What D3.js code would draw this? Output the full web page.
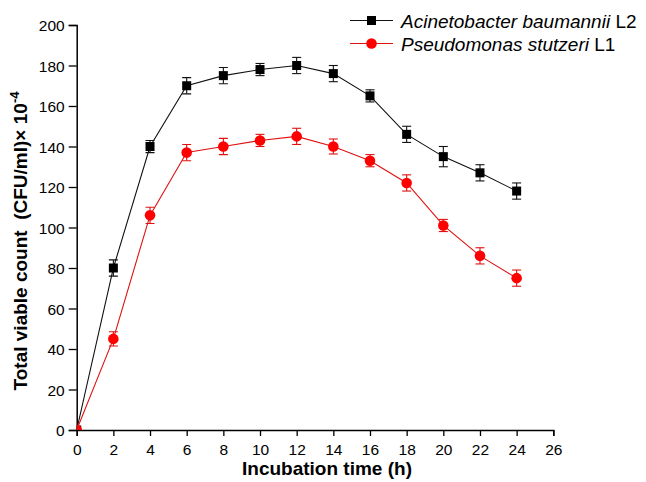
<!DOCTYPE html>
<html>
<head>
<meta charset="utf-8">
<script src="https://cdn.jsdelivr.net/npm/d3@7"></script>
<style>
html,body{margin:0;padding:0;background:#fff;}
text{font-family:"Liberation Sans",Arial,sans-serif;}
</style>
</head>
<body>
<svg id="chart" width="646" height="482"></svg>
<script>
const times = [0, 2, 4, 6, 8, 10, 12, 14, 16, 18, 20, 22, 24];
const acinetoValues = [0, 80, 140, 170, 175, 178, 180, 176, 165, 146, 135, 127, 118];
const acinetoErrors = [0, 4, 3, 4, 4, 3, 4, 4, 3, 4, 5, 4, 4];
const pseudoValues = [0, 45, 106, 137, 140, 143, 145, 140, 133, 122, 101, 86, 75];
const pseudoErrors = [0, 3.5, 4, 4, 4, 3, 4, 3.7, 3, 4, 3, 4, 4];
const xTicks = [0, 2, 4, 6, 8, 10, 12, 14, 16, 18, 20, 22, 24, 26];
const yTicks = [0, 20, 40, 60, 80, 100, 120, 140, 160, 180, 200];

const svg = d3.select("#chart");
const x = d3.scaleLinear().domain([0, 26]).range([76.7, 553.3]);
const y = d3.scaleLinear().domain([0, 200]).range([430, 25]);

svg.append("defs").append("clipPath").attr("id", "plotclip")
  .append("rect").attr("x", 76.7).attr("y", 0).attr("width", 570).attr("height", 430);

// axes
const xAxis = svg.append("g").attr("transform", "translate(0,430)")
  .call(d3.axisBottom(x).tickValues(xTicks).tickSize(6).tickPadding(4).tickFormat(d3.format("d")));
const yAxis = svg.append("g").attr("transform", "translate(76.7,0)")
  .call(d3.axisLeft(y).tickValues(yTicks).tickSize(8).tickPadding(4).tickFormat(d3.format("d")));
[xAxis, yAxis].forEach(a => {
  a.select(".domain").attr("stroke", "#000").attr("stroke-width", 1.5);
  a.selectAll(".tick line").attr("stroke", "#000").attr("stroke-width", 1.3);
  a.selectAll(".tick text").attr("fill", "#000").style("font-size", "15.5px")
    .style("font-family", "'Liberation Sans', Arial, sans-serif");
});
xAxis.selectAll(".tick text").attr("dy", null).attr("y", 25);
yAxis.selectAll(".tick text").attr("dy", "0.36em");

// axis titles
svg.append("text").attr("x", 327).attr("y", 475).attr("text-anchor", "middle")
  .style("font-size", "19px").style("font-weight", "bold").text("Incubation time (h)");
const yt = svg.append("text").attr("transform", "translate(27,241) rotate(-90)")
  .attr("text-anchor", "middle").style("font-size", "19px").style("font-weight", "bold")
  .style("white-space", "pre");
yt.append("tspan").text("Total viable count  (CFU/ml)× 10");
yt.append("tspan").attr("dy", -8).style("font-size", "13px").text("-4");

const series = [
  {name: "Acinetobacter baumannii", suffix: " L2", values: acinetoValues, errors: acinetoErrors, color: "#000", line: "#111", shape: "square"},
  {name: "Pseudomonas stutzeri", suffix: " L1", values: pseudoValues, errors: pseudoErrors, color: "#ff0000", line: "#e01010", shape: "circle"}
];

const plot = svg.append("g").attr("clip-path", "url(#plotclip)");
const line = d3.line().x(d => x(d[0])).y(d => y(d[1]));

series.forEach(s => {
  const pts = times.map((t, i) => [t, s.values[i], s.errors[i]]);
  const g = plot.append("g");
  g.append("path").datum(pts).attr("d", line).attr("fill", "none")
    .attr("stroke", s.line).attr("stroke-width", 1.1);
  const eb = g.selectAll(".eb").data(pts.filter(d => d[2] > 0)).enter().append("g");
  eb.append("line").attr("x1", d => x(d[0])).attr("x2", d => x(d[0]))
    .attr("y1", d => y(d[1] - d[2])).attr("y2", d => y(d[1] + d[2]))
    .attr("stroke", s.line).attr("stroke-width", 1.1);
  [1, -1].forEach(sg => {
    eb.append("line").attr("x1", d => x(d[0]) - 4.5).attr("x2", d => x(d[0]) + 4.5)
      .attr("y1", d => y(d[1] + sg * d[2])).attr("y2", d => y(d[1] + sg * d[2]))
      .attr("stroke", s.line).attr("stroke-width", 1.1);
  });
  if (s.shape === "square") {
    g.selectAll(".m").data(pts).enter().append("rect")
      .attr("x", d => x(d[0]) - 4.5).attr("y", d => y(d[1]) - 4.5)
      .attr("width", 9).attr("height", 9).attr("fill", s.color);
  } else {
    g.selectAll(".m").data(pts).enter().append("circle")
      .attr("cx", d => x(d[0])).attr("cy", d => y(d[1])).attr("r", 5.3).attr("fill", s.color);
  }
});

// legend
series.forEach((s, i) => {
  const ly = 20.5 + i * 23;
  const lg = svg.append("g");
  lg.append("line").attr("x1", 350).attr("x2", 393).attr("y1", ly).attr("y2", ly)
    .attr("stroke", s.line).attr("stroke-width", 1.1);
  if (s.shape === "square") {
    lg.append("rect").attr("x", 371.5 - 4.5).attr("y", ly - 4.5).attr("width", 9).attr("height", 9).attr("fill", s.color);
  } else {
    lg.append("circle").attr("cx", 371.5).attr("cy", ly).attr("r", 5.3).attr("fill", s.color);
  }
  const t = lg.append("text").attr("x", 401).attr("y", ly + 7).style("font-size", "19px");
  t.append("tspan").style("font-style", "italic").text(s.name);
  t.append("tspan").text(s.suffix);
});
</script>
</body>
</html>
